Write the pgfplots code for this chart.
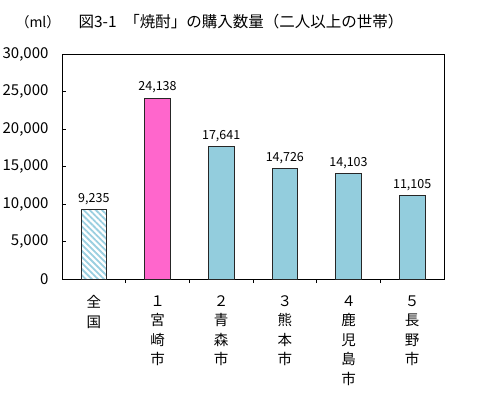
\documentclass[border=0pt]{standalone}
\usepackage{fontspec}
\setmainfont{Noto Sans CJK JP}
\usepackage{pgfplots}
\pgfplotsset{compat=1.18}
\usetikzlibrary{patterns.meta}
\definecolor{barblue}{HTML}{93CDDD}
\definecolor{barpink}{HTML}{FF66CC}
\definecolor{hatchblue}{HTML}{9ACFE0}
\begin{document}
\begin{tikzpicture}
\path[use as bounding box] (0pt,0pt) rectangle (489pt,394pt);
\node[font=\fontsize{15.5}{17}\selectfont] at (241pt,372pt) {図3-1\hspace{0.5em}「焼酎」の購入数量（二人以上の世帯）};
\node[font=\fontsize{14}{16}\selectfont] at (38pt,372pt) {（ml）};
\begin{axis}[
  at={(62pt,115pt)}, anchor=south west,
  scale only axis, width=382pt, height=225pt,
  xmin=-0.5, xmax=5.5, ymin=0, ymax=30000,
  ytick={0,5000,...,30000},
  scaled y ticks=false,
  /pgf/number format/.cd, fixed, precision=0, 1000 sep={,}, assume math mode=true, /pgfplots/.cd,
  axis line style={line width=0.9pt},
  tick align=inside, xtick pos=bottom, ytick pos=left,
  major tick length=4pt, minor tick length=4pt,
  xtick={0,...,5},
  major x tick style={draw=none},
  minor xtick={0.5,1.5,2.5,3.5,4.5},
  minor x tick style={black, line width=0.8pt},
  y tick style={black, line width=0.8pt},
  xticklabels={全\\国, １\\宮\\崎\\市, ２\\青\\森\\市, ３\\熊\\本\\市, ４\\鹿\\児\\島\\市, ５\\長\\野\\市},
  xticklabel style={align=center, font=\fontsize{14.5}{19.5}\selectfont, anchor=north, yshift=-9pt},
  yticklabel style={font=\fontsize{15}{17}\selectfont, xshift=-10pt},
  ybar, bar width=25.6pt, bar shift=0pt,
  nodes near coords,
  every node near coord/.append style={font=\fontsize{12.5}{14}\selectfont, yshift=1pt, black},
]
\addplot[draw=black!85, line width=0.8pt, pattern={Lines[angle=-45,distance=4.3pt,line width=1.8pt]}, pattern color=hatchblue] coordinates {(0,9235)};
\addplot[draw=black!85, line width=0.8pt, fill=barpink] coordinates {(1,24138)};
\addplot[draw=black!85, line width=0.8pt, fill=barblue] coordinates {(2,17641) (3,14726) (4,14103) (5,11105)};
\end{axis}
\end{tikzpicture}
\end{document}
